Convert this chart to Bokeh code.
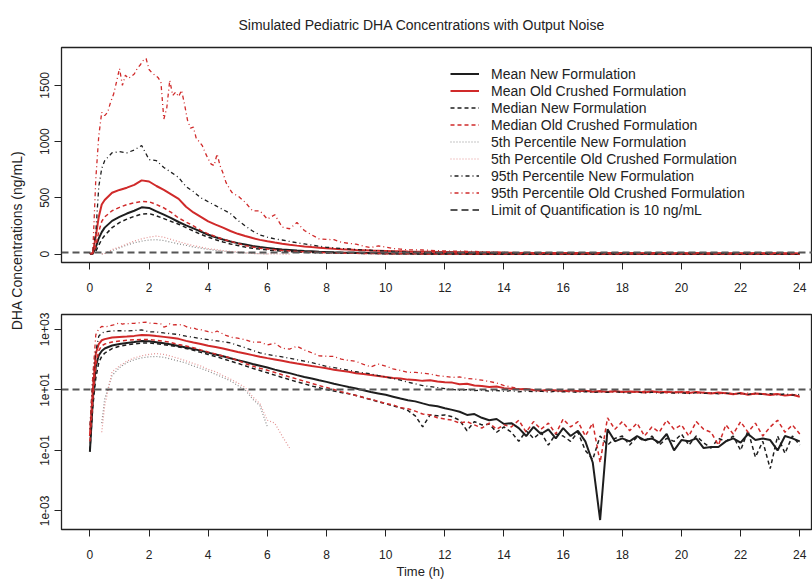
from math import pi
from bokeh.plotting import figure
from bokeh.models import (Range1d, FixedTicker, CustomJSTickFormatter, Legend,
                          LegendItem, Label, GridPlot, Title)
from bokeh.embed import file_html
from bokeh.resources import INLINE

nan = float("nan")

# ---------------- data ----------------
time_h = [0, 0.1, 0.2, 0.3, 0.4, 0.5, 0.75, 1.0, 1.25, 1.5,
          1.75, 2.0, 2.25, 2.5, 2.75, 3.0, 3.25, 3.5, 3.75, 4.0,
          4.25, 4.5, 4.75, 5.0, 5.25, 5.5, 5.75, 6.0, 6.25, 6.5,
          6.75, 7.0, 7.25, 7.5, 7.75, 8.0, 8.25, 8.5, 8.75, 9.0,
          9.25, 9.5, 9.75, 10.0, 10.25, 10.5, 10.75, 11.0, 11.25, 11.5,
          11.75, 12.0, 12.25, 12.5, 12.75, 13.0, 13.25, 13.5, 13.75, 14.0,
          14.25, 14.5, 14.75, 15.0, 15.25, 15.5, 15.75, 16.0, 16.25, 16.5,
          16.75, 17.0, 17.25, 17.5, 17.75, 18.0, 18.25, 18.5, 18.75, 19.0,
          19.25, 19.5, 19.75, 20.0, 20.25, 20.5, 20.75, 21.0, 21.25, 21.5,
          21.75, 22.0, 22.25, 22.5, 22.75, 23.0, 23.25, 23.5, 23.75, 24.0]

mean_new = [0.09, 5, 60, 140, 195, 235, 295, 330, 360, 385,
            415, 410, 380, 350, 320, 285, 255, 228, 200, 172,
            150, 130, 112, 97, 85, 72, 63, 55, 47, 41,
            36, 31, 27, 24, 21, 18.5, 16, 14.2, 12.6, 11.2,
            9.8, 8.6, 7.7, 6.9, 6.0, 5.2, 4.6, 4.2, 3.6, 3.1,
            2.9, 2.5, 2.2, 1.9, 1.5, 1.6, 1.2, 1.0, 1.1, 0.75,
            0.8, 0.55, 0.3, 0.6, 0.35, 0.5, 0.25, 0.55, 0.3, 0.45,
            0.2, 0.04, 0.0005, 0.5, 0.2, 0.25, 0.2, 0.3, 0.22, 0.25,
            0.18, 0.35, 0.1, 0.22, 0.2, 0.25, 0.12, 0.13, 0.13, 0.2,
            0.25, 0.18, 0.35, 0.22, 0.25, 0.22, 0.1, 0.3, 0.25, 0.2]

mean_old = [0.3, 10, 160, 330, 440, 480, 545, 570, 590, 615,
            655, 645, 605, 570, 530, 490, 420, 370, 330, 290,
            262, 235, 205, 180, 160, 142, 126, 113, 102, 92,
            83, 75, 68, 62, 57, 52, 47, 43, 40, 36,
            34, 31, 29, 27, 25, 24, 22, 21.5, 20, 21,
            19, 18, 17.5, 15.5, 16, 14, 13.5, 12.5, 13, 11.5,
            11, 10.5, 10.8, 10, 9.5, 10.2, 9.6, 9.2, 9.8, 9.0,
            9.4, 8.8, 9.3, 8.6, 9.2, 8.5, 8.9, 8.7, 8.3, 9.0,
            8.4, 8.8, 8.2, 8.6, 8.0, 8.5, 8.1, 7.6, 8.3, 7.8,
            7.2, 8.0, 7.0, 7.6, 7.3, 6.8, 7.4, 6.5, 6.9, 6.0]

median_new = [0.1, 3, 25, 80, 130, 165, 235, 280, 310, 335,
              355, 360, 340, 315, 290, 265, 235, 205, 175, 150,
              128, 108, 90, 76, 63, 52, 44, 37, 31, 26,
              22, 18.5, 16, 13.5, 11.8, 10.3, 9.2, 8.2, 7.5, 6.6,
              5.6, 4.8, 4.1, 3.5, 3.0, 2.6, 2.1, 1.4, 0.6, 1.5,
              1.4, 1.5, 1.3, 1.0, 0.45, 0.9, 0.7, 0.75, 0.4, 0.6,
              0.4, 0.2, 0.45, 0.25, 0.4, 0.15, 0.35, 0.3, 0.2, 0.4,
              0.1, 0.05, 0.3, 0.15, 0.25, 0.3, 0.15, 0.28, 0.2, 0.3,
              0.15, 0.25, 0.2, 0.35, 0.15, 0.3, 0.18, 0.12, 0.25, 0.2,
              0.3, 0.1, 0.45, 0.06, 0.2, 0.025, 0.3, 0.08, 0.3, 0.15]

median_old = [0.2, 5, 70, 200, 290, 330, 385, 415, 440, 455,
              468, 465, 440, 410, 370, 320, 285, 250, 210, 180,
              155, 132, 115, 95, 75, 62, 52, 45, 38, 32,
              27, 23, 19.5, 16.5, 14, 12, 10.3, 8.8, 7.6, 6.6,
              5.6, 4.9, 4.2, 3.6, 3.2, 2.6, 2.4, 2.0, 1.6, 1.5,
              1.2, 1.1, 1.0, 0.8, 0.9, 0.7, 0.55, 0.8, 0.5, 0.7,
              0.6, 1.0, 0.4, 0.9, 0.5, 0.8, 0.35, 1.1, 0.6, 0.9,
              0.3, 0.8, 0.04, 1.2, 0.5, 0.9, 0.45, 0.8, 0.3, 0.6,
              0.4, 1.0, 0.5, 0.7, 0.3, 0.9, 0.5, 0.4, 0.15, 0.7,
              0.35, 0.9, 0.4, 0.8, 0.3, 0.6, 1.0, 0.4, 0.7, 0.35]

p5_new = [nan, nan, nan, nan, 0.8, 5, 30, 55, 80, 100,
          115, 125, 128, 120, 105, 90, 78, 62, 52, 42,
          33, 26, 20, 14, 10, 5, 3, 0.6, nan, nan] + [nan] * 70

p5_old = [nan, nan, nan, nan, 0.4, 3, 40, 62, 90, 115,
          135, 150, 160, 150, 130, 110, 92, 75, 62, 48,
          40, 30, 23, 17, 12, 6, 3.5, 1.0, 0.8, 0.3,
          0.12] + [nan] * 69

p95_new = [0.5, 30, 190, 600, 760, 830, 900, 910, 900, 925,
           965, 840, 830, 770, 726, 680, 600, 555, 500, 465,
           430, 395, 360, 300, 250, 205, 170, 150, 135, 125,
           112, 100, 90, 80, 70, 60, 55, 50, 45, 40,
           37, 34, 30, 27, 24, 21, 18, 16, 14, 13,
           12, 11, 10.4, 9.8, 10.2, 9.5, 9.9, 9.2, 9.6, 9.0,
           9.5, 8.7, 9.2, 8.8, 9.1, 8.5, 9.0, 8.6, 8.8, 8.3,
           8.9, 8.2, 8.6, 8.4, 8.7, 8.3, 7.9, 8.5, 8.0, 8.4,
           7.8, 8.3, 7.9, 8.1, 7.6, 8.2, 7.7, 8.0, 7.4, 7.9,
           7.5, 7.7, 7.2, 7.8, 7.1, 7.5, 6.9, 7.4, 6.8, 7.1]

p95_old_time = [0.0, 0.1, 0.2, 0.3, 0.4, 0.5, 0.6, 0.7, 0.8, 0.9,
                1.0, 1.1, 1.2, 1.3, 1.4, 1.5, 1.6, 1.7, 1.8, 1.9,
                2.0, 2.1, 2.2, 2.3, 2.4, 2.5, 2.6, 2.7, 2.8, 2.9,
                3.0, 3.1, 3.2, 3.3, 3.4, 3.5, 3.6, 3.7, 3.8, 3.9,
                4.0, 4.1, 4.2, 4.3, 4.4, 4.5, 4.6, 4.7, 4.8, 4.9,
                5.0,
                5.25, 5.5, 5.75, 6.0, 6.25, 6.5, 6.75, 7.0, 7.25, 7.5,
                7.75, 8.0, 8.25, 8.5, 8.75, 9.0, 9.25, 9.5, 9.75, 10.0,
                10.25, 10.5, 10.75, 11.0, 11.25, 11.5, 11.75, 12.0, 12.25, 12.5,
                12.75, 13.0, 13.25, 13.5, 13.75, 14.0, 14.25, 14.5, 14.75, 15.0,
                15.25, 15.5, 15.75, 16.0, 16.25, 16.5, 16.75, 17.0, 17.25, 17.5,
                17.75, 18.0, 18.25, 18.5, 18.75, 19.0, 19.25, 19.5, 19.75, 20.0,
                20.25, 20.5, 20.75, 21.0, 21.25, 21.5, 21.75, 22.0, 22.25, 22.5,
                22.75, 23.0, 23.25, 23.5, 23.75, 24.0]

p95_old = [0.5, 30, 670, 1050, 1260, 1230, 1260, 1350, 1420, 1530,
           1650, 1500, 1590, 1560, 1580, 1600, 1650, 1680, 1720, 1738,
           1640, 1610, 1590, 1570, 1530, 1200, 1300, 1545, 1410, 1440,
           1400, 1455, 1330, 1190, 1120, 1128, 1024, 1000, 964, 900,
           845, 800, 786, 890, 786, 720, 637, 590, 548, 530,
           518,
           460, 384, 384, 310, 350, 240, 225, 280, 210, 170,
           135, 130, 128, 105, 95, 88, 70, 58, 72, 62,
           50, 44, 38, 38, 36, 34, 30, 28, 26, 27,
           24, 23, 21, 19, 17, 14, 12.5, 11, 10.5, 9.6,
           10.2, 9.1, 9.8, 9.3, 8.7, 9.5, 8.9, 9.6, 8.6, 9.2,
           8.4, 9.0, 8.8, 8.2, 9.1, 8.5, 8.9, 8.1, 8.7, 8.3,
           8.8, 7.9, 8.4, 8.0, 7.4, 8.2, 7.6, 7.3, 7.9, 7.1,
           7.5, 6.9, 7.4, 6.6, 7.0, 6.2]

loq = 10

x_ticks = [0, 2, 4, 6, 8, 10, 12, 14, 16, 18, 20, 22, 24]
lin_ticks = [0, 500, 1000, 1500]
log_ticks = [1e-3, 1e-1, 1e1, 1e3]

legend_labels = ["Mean New Formulation", "Mean Old Crushed Formulation",
                 "Median New Formulation", "Median Old Crushed Formulation",
                 "5th Percentile New Formulation", "5th Percentile Old Crushed Formulation",
                 "95th Percentile New Formulation", "95th Percentile Old Crushed Formulation",
                 "Limit of Quantification is 10 ng/mL"]

# ---------------- styling ----------------
FONT = "Liberation Sans"
TXT = "#222222"
BLK = "#1e1e1e"
RED = "#d02a2a"
GRY5 = "#8a8a8a"
PNK5 = "#e39393"
LOQC = "#555555"

series = [
    # (x, y, color, width, dash)
    (time_h, mean_new, BLK, 2.0, "solid"),
    (time_h, mean_old, RED, 2.0, "solid"),
    (time_h, median_new, BLK, 1.5, "4 3"),
    (time_h, median_old, RED, 1.5, "4 3"),
    (time_h, p5_new, GRY5, 1.2, "1 2"),
    (time_h, p5_old, PNK5, 1.2, "1 2"),
    (time_h, p95_new, BLK, 1.3, "1 3 4 3"),
    (p95_old_time, p95_old, RED, 1.3, "1 3 4 3"),
]

XR = (-0.96, 24.43)
W = 782


def style(p):
    p.xgrid.visible = False
    p.ygrid.visible = False
    p.outline_line_color = "#222222"
    p.outline_line_width = 1.3
    p.background_fill_color = "white"
    p.border_fill_color = "white"
    for ax in p.axis:
        ax.axis_line_color = None
        ax.major_tick_line_color = "#222222"
        ax.major_tick_line_width = 1
        ax.major_tick_out = 7
        ax.major_tick_in = 0
        ax.minor_tick_line_color = None
        ax.major_label_text_font = FONT
        ax.major_label_text_font_size = "12px"
        ax.major_label_text_color = TXT
    p.xaxis.ticker = FixedTicker(ticks=x_ticks)
    p.xaxis.major_label_standoff = 13
    p.yaxis.major_label_orientation = "vertical"
    p.yaxis.major_label_standoff = 5


# top panel (linear)
p_top = figure(width=W, height=300, x_range=Range1d(*XR), y_range=Range1d(-75, 1836),
               toolbar_location=None, output_backend="svg",
               min_border_left=31, min_border_right=0, min_border_top=47, min_border_bottom=38)
style(p_top)
p_top.yaxis.ticker = FixedTicker(ticks=lin_ticks)
p_top.title.text = "Simulated Pediatric DHA Concentrations with Output Noise"
p_top.title.text_font = FONT
p_top.title.text_font_size = "14px"
p_top.title.text_font_style = "normal"
p_top.title.text_color = TXT
p_top.title.align = "left"
p_top.title.offset = 177
p_top.title.standoff = 29

# bottom panel (log)
p_bot = figure(width=W, height=279, x_range=Range1d(*XR), y_range=Range1d(2.43e-4, 3133),
               y_axis_type="log", toolbar_location=None, output_backend="svg",
               min_border_left=31, min_border_right=0, min_border_top=14, min_border_bottom=50)
style(p_bot)
p_bot.yaxis.ticker = FixedTicker(ticks=log_ticks)
p_bot.yaxis.formatter = CustomJSTickFormatter(code="""
const e = Math.round(Math.log10(tick));
const a = Math.abs(e);
return "1e" + (e < 0 ? "-" : "+") + (a < 10 ? "0" : "") + a;
""")
p_bot.add_layout(Title(text="Time (h)", text_font=FONT, text_font_size="13px",
                       text_font_style="normal", text_color=TXT, align="left",
                       offset=335, standoff=0), "below")

top_renderers = []
for p in (p_top, p_bot):
    for (xs, ys, col, lw, dash) in series:
        r = p.line(x=xs, y=ys, line_color=col, line_width=lw, line_dash=dash)
        if p is p_top:
            top_renderers.append(r)
    r = p.hspan(y=[loq], line_color=LOQC, line_width=2.2, line_dash="7 4")
    if p is p_top:
        top_renderers.append(r)

legend = Legend(items=[LegendItem(label=lab, renderers=[r])
                       for lab, r in zip(legend_labels, top_renderers)],
                location=(389, 44), orientation="vertical",
                border_line_color=None, background_fill_alpha=0,
                padding=0, margin=0, spacing=0,
                glyph_width=29, glyph_height=17, label_height=17,
                label_standoff=12, label_text_font=FONT,
                label_text_font_size="14px", label_text_color=TXT)
p_top.add_layout(legend)

# shared y-axis title column
p_lab = figure(width=30, height=579, x_range=Range1d(0, 1), y_range=Range1d(0, 1),
               x_axis_type=None, y_axis_type=None, toolbar_location=None,
               output_backend="svg", min_border=0)
p_lab.outline_line_color = None
p_lab.background_fill_color = "white"
p_lab.border_fill_color = "white"
p_lab.add_layout(Label(x=16, y=289, x_units="screen", y_units="screen",
                       text="DHA Concentrations (ng/mL)", angle=pi / 2,
                       text_align="center", text_baseline="middle",
                       text_font=FONT, text_font_size="14px", text_color=TXT))

grid = GridPlot(children=[(p_lab, 0, 0, 2, 1), (p_top, 0, 1), (p_bot, 1, 1)],
                toolbar_location=None)

open("out.html", "w").write(file_html(grid, INLINE))
